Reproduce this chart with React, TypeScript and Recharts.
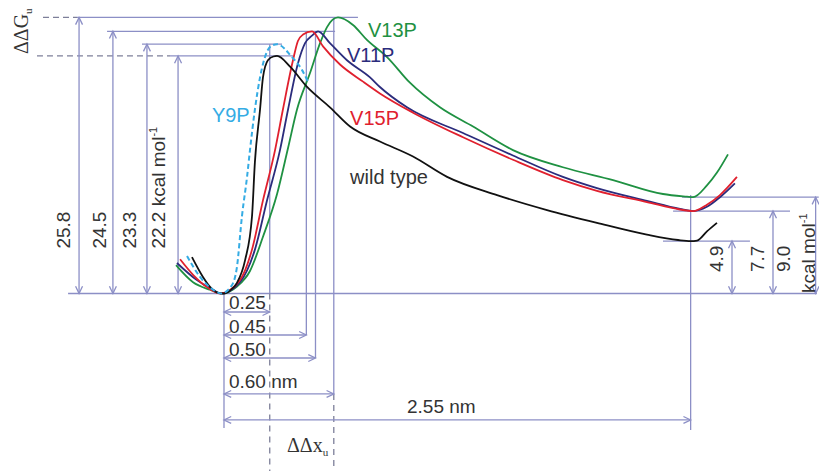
import React from 'react';
import { LineChart, Line, XAxis, YAxis, ReferenceLine, ReferenceDot } from 'recharts';

// free-energy profiles: [extension (nm), ΔG (kcal/mol)]
const wildType: [number, number][] = [
  [-0.175, 3.4], [-0.115, 1.55], [-0.075, 0.6], [-0.03, 0.05], [0, 0], [0.035, 0.3], [0.071, 1.0],
  [0.115, 3.1], [0.153, 7.2], [0.169, 12.3], [0.197, 17.2], [0.213, 20.2], [0.24, 21.8], [0.27, 22.15],
  [0.29, 22.2], [0.361, 21.2], [0.454, 19.3], [0.579, 17.4], [0.689, 15.6], [0.852, 14.2], [1.033, 12.8],
  [1.219, 10.9], [1.492, 9.2], [1.765, 7.8], [2.038, 6.6], [2.311, 5.5], [2.481, 5.0], [2.55, 4.9],
  [2.585, 4.95], [2.639, 5.8], [2.694, 6.6],
];
const y9p: [number, number][] = [
  [-0.202, 3.5], [-0.131, 1.55], [-0.06, 0.35], [-0.016, 0], [0.044, 0.8], [0.071, 2.5], [0.098, 7.2],
  [0.126, 10.9], [0.142, 13.4], [0.169, 17.2], [0.197, 20.2], [0.235, 22.6], [0.265, 23.2], [0.29, 23.3],
  [0.33, 22.9], [0.361, 22.3], [0.426, 20.9], [0.459, 19.8],
];
const v15p: [number, number][] = [
  [-0.24, 3.2], [-0.169, 1.75], [-0.093, 0.6], [-0.022, 0], [0.087, 1.25], [0.153, 4.1], [0.213, 8.7],
  [0.279, 13.4], [0.322, 17.2], [0.377, 21.8], [0.404, 23.6], [0.432, 24.2], [0.481, 24.5], [0.541, 23.1],
  [0.634, 21.4], [0.76, 19.8], [0.852, 18.7], [1.033, 16.9], [1.306, 14.6], [1.579, 12.5], [1.852, 10.6],
  [2.038, 9.6], [2.311, 8.55], [2.492, 7.85], [2.563, 7.7], [2.639, 8.3], [2.71, 9.2], [2.803, 10.9],
];
const v11p: [number, number][] = [
  [-0.257, 2.85], [-0.148, 1.25], [-0.06, 0.35], [-0.016, 0], [0.087, 1.05], [0.169, 4.1], [0.235, 8.7],
  [0.306, 13.4], [0.35, 17.2], [0.404, 21.5], [0.443, 23.4], [0.481, 24.1], [0.514, 24.5], [0.579, 23.4],
  [0.672, 21.8], [0.798, 20.2], [0.852, 19.3], [1.0, 17.4], [1.306, 15.0], [1.579, 12.9], [1.852, 10.9],
  [2.038, 9.85], [2.311, 8.65], [2.492, 7.9], [2.563, 7.7], [2.639, 8.1], [2.71, 9.0], [2.792, 10.3],
];
const v13p: [number, number][] = [
  [-0.262, 2.65], [-0.169, 1.05], [-0.077, 0.35], [-0.011, 0], [0.071, 0.65], [0.142, 2.1], [0.213, 5.3],
  [0.29, 9.3], [0.35, 13.6], [0.399, 17.2], [0.47, 20.6], [0.525, 23.4], [0.563, 24.9], [0.623, 25.8],
  [0.705, 25.1], [0.781, 23.7], [0.891, 22.1], [1.016, 19.7], [1.18, 17.4], [1.361, 15.6], [1.579, 13.4],
  [1.852, 11.8], [2.126, 10.6], [2.399, 9.3], [2.53, 9.05], [2.563, 9.0], [2.639, 10.1], [2.694, 11.3],
  [2.754, 13.0],
];

const barrierHeights = [25.8, 24.5, 23.3, 22.2];
const barrierPositions = [0.25, 0.45, 0.5, 0.6];
const barrierTops = [23.3, 24.5, 24.5, 25.8];
const unfoldedDistance = 2.55;
const unfoldedEnergies = [4.9, 7.7, 9.0];
const seriesNames = ['wild type', 'Y9P', 'V11P', 'V13P', 'V15P'];

const toPoints = (pairs: [number, number][]) => pairs.map(([x, y]) => ({ x, y }));

const SANS = '"Liberation Sans", Arial, sans-serif';
const SERIF = '"Liberation Serif", "Times New Roman", serif';
const GUIDE = '#8c8fc6';
const DASH = '#7d7f99';
const TEXT = '#333';

function Arrow(p: any) {
  const { x1, y1, x2, y2, stroke } = p;
  const a = Math.atan2(y2 - y1, x2 - x1);
  const L = 8;
  const w = 0.45;
  const end = `${x2 - L * Math.cos(a - w)},${y2 - L * Math.sin(a - w)} ${x2},${y2} ${x2 - L * Math.cos(a + w)},${y2 - L * Math.sin(a + w)}`;
  const start = `${x1 + L * Math.cos(a - w)},${y1 + L * Math.sin(a - w)} ${x1},${y1} ${x1 + L * Math.cos(a + w)},${y1 + L * Math.sin(a + w)}`;
  return (
    <g stroke={stroke} strokeWidth={1.3} fill="none">
      <line x1={x1} y1={y1} x2={x2} y2={y2} />
      <polyline points={start} />
      <polyline points={end} />
    </g>
  );
}

const seg = (key: string, x1: number, y1: number, x2: number, y2: number, opts: any = {}) => (
  <ReferenceLine
    key={key}
    segment={[{ x: x1, y: y1 }, { x: x2, y: y2 }]}
    stroke={opts.stroke || GUIDE}
    strokeWidth={1.3}
    strokeDasharray={opts.dash}
    ifOverflow="visible"
    shape={opts.arrow ? Arrow : undefined}
  />
);

const txt = (key: string, x: number, y: number, content: React.ReactNode, opts: any = {}) => (
  <ReferenceDot
    key={key}
    x={x}
    y={y}
    r={0}
    ifOverflow="visible"
    shape={(p: any) => (
      <text
        x={p.cx}
        y={p.cy}
        fill={opts.fill || TEXT}
        fontSize={opts.size || 19}
        fontFamily={opts.family || SANS}
        textAnchor="start"
        transform={opts.rotate ? `rotate(-90 ${p.cx} ${p.cy})` : undefined}
      >
        {content}
      </text>
    )}
  />
);

const sup = (s: string) => (
  <tspan fontSize={11} dy={-8}>
    {s}
  </tspan>
);

const curve = (pairs: [number, number][], color: string, dash?: string) => (
  <Line
    data={toPoints(pairs)}
    dataKey="y"
    type="monotone"
    stroke={color}
    strokeWidth={dash ? 2 : 1.8}
    strokeDasharray={dash}
    dot={false}
    activeDot={false}
    isAnimationActive={false}
  />
);

export default function App() {
  // layout positions of the dimension lines (chart space)
  const leftArrowX = [-0.792, -0.607, -0.421, -0.251];
  const topSpan = [[-0.803, 0.732], [-0.639, 0.607], [-0.448, 0.317], [-0.295, 0.377]];
  const distY = [-1.73, -3.88, -6.03, -9.39];
  const rightArrowX = [2.776, 3.0, 3.233];
  const rightSpan = [[2.399, 2.874], [2.454, 3.093], [2.503, 3.25]];
  const bottom = -16.58;

  return (
    <div style={{ position: 'absolute', left: 0, top: 0, width: 819, height: 471, background: '#fff' }}>
      <LineChart width={819} height={471} margin={{ top: 0, right: 0, bottom: 0, left: 0 }} accessibilityLayer={false}>
        <XAxis dataKey="x" type="number" domain={[-1.224, 3.2514]} allowDataOverflow hide />
        <YAxis type="number" domain={[-16.589, 27.43]} allowDataOverflow hide />

        {seg('base', -0.852, 0, 3.24, 0)}
        {barrierHeights.map((h, i) => seg(`top${i}`, topSpan[i][0], h, topSpan[i][1], h))}
        {seg('dashTop', -0.989, barrierHeights[0], topSpan[0][0], barrierHeights[0], { dash: '6 4', stroke: DASH })}
        {seg('dashLow', -1.022, barrierHeights[3], topSpan[3][0], barrierHeights[3], { dash: '6 4', stroke: DASH })}
        {barrierHeights.map((h, i) => seg(`la${i}`, leftArrowX[i], 0, leftArrowX[i], h, { arrow: true }))}

        {barrierPositions.map((x, i) => seg(`pv${i}`, x, barrierTops[i], x, i === 0 ? 0 : distY[i]))}
        {seg('pd0', barrierPositions[0], 0, barrierPositions[0], bottom, { dash: '6 5', stroke: DASH })}
        {seg('pd3', barrierPositions[3], distY[3], barrierPositions[3], bottom, { dash: '6 5', stroke: DASH })}
        {seg('zero', 0, 0, 0, -12.57)}
        {barrierPositions.map((x, i) => seg(`da${i}`, 0, distY[i], x, distY[i], { arrow: true }))}
        {seg('ua', 0, -11.82, unfoldedDistance, -11.82, { arrow: true })}
        {seg('uv', unfoldedDistance, 9.2, unfoldedDistance, -12.76)}

        {unfoldedEnergies.map((e, i) => seg(`rs${i}`, rightSpan[i][0], e, rightSpan[i][1], e))}
        {unfoldedEnergies.map((e, i) => seg(`ra${i}`, rightArrowX[i], 0, rightArrowX[i], e, { arrow: true }))}

        {curve(v13p, '#1f9142')}
        {curve(v11p, '#2b2c7c')}
        {curve(v15p, '#e0202e')}
        {curve(wildType, '#111')}
        {curve(y9p, '#35ace4', '5 3')}

        {txt('lwt', 0.689, 10.2, seriesNames[0], { size: 20 })}
        {txt('ly9', -0.066, 16.03, seriesNames[1], { size: 20, fill: '#35ace4' })}
        {txt('l11', 0.672, 21.64, seriesNames[2], { size: 20, fill: '#2b2c7c' })}
        {txt('l13', 0.787, 23.97, seriesNames[3], { size: 20, fill: '#1f9142' })}
        {txt('l15', 0.689, 15.75, seriesNames[4], { size: 20, fill: '#e0202e' })}

        {txt('h0', -0.842, 4.2, barrierHeights[0].toFixed(1), { rotate: true })}
        {txt('h1', -0.645, 4.2, barrierHeights[1].toFixed(1), { rotate: true })}
        {txt('h2', -0.481, 4.2, barrierHeights[2].toFixed(1), { rotate: true })}
        {txt('h3', -0.322, 4.2, <>{barrierHeights[3].toFixed(1)} kcal mol{sup('-1')}</>, { rotate: true })}
        {txt('dg', -1.071, 22.38, <>ΔΔG<tspan fontSize={11} dy={4}>u</tspan></>, { rotate: true, family: SERIF, size: 20 })}

        {barrierPositions.map((x, i) =>
          txt(`pl${i}`, 0.027, [-1.45, -3.69, -5.84, -8.83][i], i === 3 ? `${x.toFixed(2)} nm` : x.toFixed(2))
        )}
        {txt('ul', 1.0, -11.17, `${unfoldedDistance.toFixed(2)} nm`)}
        {txt('dx', 0.344, -14.81, <>ΔΔx<tspan fontSize={11} dy={4}>u</tspan></>, { family: SERIF, size: 20 })}

        {txt('e0', 2.727, 2.01, unfoldedEnergies[0].toFixed(1), { rotate: true })}
        {txt('e1', 2.951, 2.01, unfoldedEnergies[1].toFixed(1), { rotate: true })}
        {txt('e2', 3.093, 2.01, unfoldedEnergies[2].toFixed(1), { rotate: true })}
        {txt('eu', 3.23, 0.05, <>kcal mol{sup('-1')}</>, { rotate: true })}
      </LineChart>
    </div>
  );
}
